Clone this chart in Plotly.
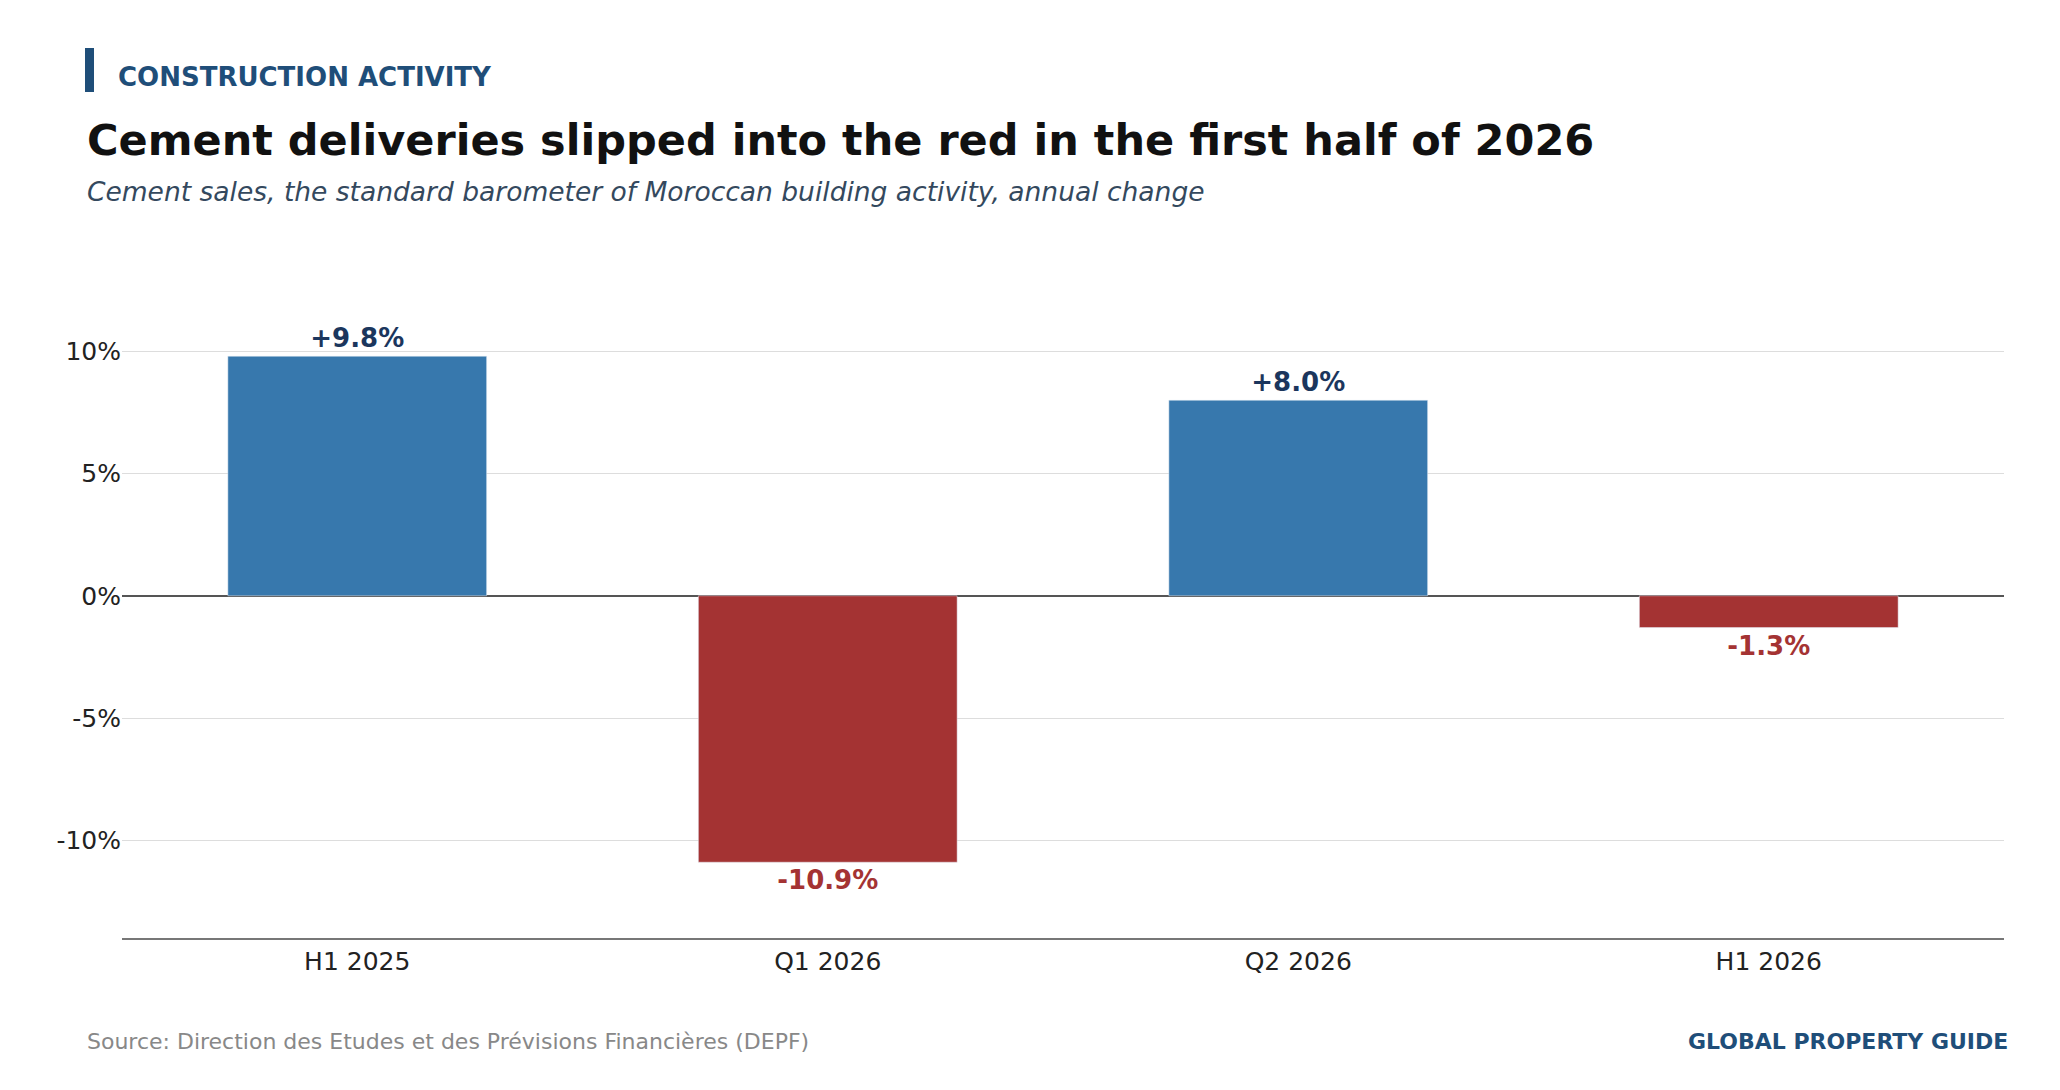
import plotly.graph_objects as go

periods = ["H1 2025", "Q1 2026", "Q2 2026", "H1 2026"]
changes = [9.8, -10.9, 8.0, -1.3]
tick_vals = [-10, -5, 0, 5, 10]
tick_text = ["-10%", "-5%", "0%", "5%", "10%"]

BLUE = "#3778ad"
RED = "#a43333"
bar_colors = [BLUE if v >= 0 else RED for v in changes]
label_colors = ["#1b365d" if v >= 0 else RED for v in changes]
labels = [("+" if v >= 0 else "") + f"{v:.1f}%" for v in changes]

fig = go.Figure(go.Bar(
    x=periods, y=changes, marker_color=bar_colors, width=0.55,
    text=labels, textposition="outside", cliponaxis=False,
    textfont=dict(size=26, color=label_colors, family="DejaVu Sans"),
    hoverinfo="skip",
))
# make labels bold
fig.data[0].texttemplate = "<b>%{text}</b>"

fig.update_layout(
    width=2060, height=1090,
    paper_bgcolor="white", plot_bgcolor="white",
    margin=dict(l=114, r=64, t=270, b=160),
    font=dict(family="DejaVu Sans", size=25, color="#222"),
    showlegend=False,
    bargap=0.45,
)
fig.update_yaxes(range=[-14, 13], tickvals=tick_vals, ticktext=tick_text,
                 gridcolor="#dddddd", zeroline=True, zerolinecolor="#555",
                 zerolinewidth=2, ticks="", tickfont=dict(size=25))
fig.update_xaxes(showline=True, linecolor="#777", linewidth=1.5,
                 tickfont=dict(size=25), ticks="")

fig.add_shape(type="rect", xref="paper", yref="paper",
              x0=-37/1882, x1=-28/1882, y0=1 + (270 - 40) / 660, y1=1 + (270 - 84) / 660,
              fillcolor="#1f4e79", line_width=0)
fig.add_annotation(text="<b>CONSTRUCTION ACTIVITY</b>", xref="paper", yref="paper",
                   x=-6/1882, y=1 + (270 - 69) / 660, xanchor="left", yanchor="middle",
                   showarrow=False, font=dict(size=26, color="#1f4e79"))
fig.add_annotation(text="<b>Cement deliveries slipped into the red in the first half of 2026</b>",
                   xref="paper", yref="paper", x=-37/1882, y=1 + (270 - 132) / 660,
                   xanchor="left", yanchor="middle", showarrow=False,
                   font=dict(size=43, color="#111"))
fig.add_annotation(text="<i>Cement sales, the standard barometer of Moroccan building activity, annual change</i>",
                   xref="paper", yref="paper", x=-37/1882, y=1 + (270 - 184) / 660,
                   xanchor="left", yanchor="middle", showarrow=False,
                   font=dict(size=26.5, color="#34495e"))
fig.add_annotation(text="Source: Direction des Etudes et des Prévisions Financières (DEPF)",
                   xref="paper", yref="paper", x=-37/1882, y=-(1033 - 930) / 660,
                   xanchor="left", yanchor="middle", showarrow=False,
                   font=dict(size=22, color="#888"))
fig.add_annotation(text="<b>GLOBAL PROPERTY GUIDE</b>",
                   xref="paper", yref="paper", x=1 + 6/1882, y=-(1033 - 930) / 660,
                   xanchor="right", yanchor="middle", showarrow=False,
                   font=dict(size=22, color="#1f4e79"))

fig.write_html("out.html")
